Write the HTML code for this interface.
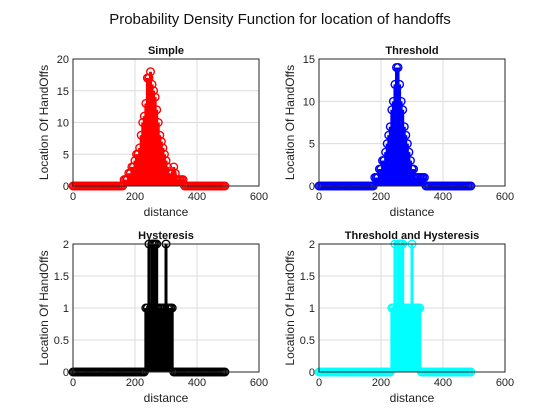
<!DOCTYPE html>
<html><head><meta charset="utf-8"><style>
body{margin:0;background:#fff;}
svg{display:block;font-family:"Liberation Sans",sans-serif;}
</style></head><body>
<svg id="fig" width="560" height="420" viewBox="0 0 560 420">
<rect width="560" height="420" fill="#fff"/>
<text x="280" y="24" text-anchor="middle" font-size="15" fill="#111">Probability Density Function for location of handoffs</text>
</svg>
<script>
const distances = [0,5,10,15,20,25,30,35,40,45,50,55,60,65,70,75,80,85,90,95,100,105,110,115,120,125,130,135,140,145,150,155,160,165,170,175,180,185,190,195,200,205,210,215,220,225,230,235,240,245,250,255,260,265,270,275,280,285,290,295,300,305,310,315,320,325,330,335,340,345,350,355,360,365,370,375,380,385,390,395,400,405,410,415,420,425,430,435,440,445,450,455,460,465,470,475,480,485,490];
const simpleVals = [0,0,0,0,0,0,0,0,0,0,0,0,0,0,0,0,0,0,0,0,0,0,0,0,0,0,0,0,0,0,0,0,0,1,1,1,2,2,3,3,4,5,5,6,8,10,11,13,17,17,18,16,15,14,12,10,8,7,6,5,4,3,2,2,2,3,2,1,1,1,1,1,0,0,0,0,0,0,0,0,0,0,0,0,0,0,0,0,0,0,0,0,0,0,0,0,0,0,0];
const thresholdVals = [0,0,0,0,0,0,0,0,0,0,0,0,0,0,0,0,0,0,0,0,0,0,0,0,0,0,0,0,0,0,0,0,0,0,0,0,1,1,1,2,2,3,3,4,5,6,7,9,10,12,14,14,12,10,9,7,6,5,4,3,2,2,1,1,1,1,1,1,1,0,0,0,0,0,0,0,0,0,0,0,0,0,0,0,0,0,0,0,0,0,0,0,0,0,0,0,0,0,0];
const hystVals = [0,0,0,0,0,0,0,0,0,0,0,0,0,0,0,0,0,0,0,0,0,0,0,0,0,0,0,0,0,0,0,0,0,0,0,0,0,0,0,0,0,0,0,0,0,0,0,1,1,2,1,2,2,2,2,1,1,1,1,1,2,1,1,1,1,0,0,0,0,0,0,0,0,0,0,0,0,0,0,0,0,0,0,0,0,0,0,0,0,0,0,0,0,0,0,0,0,0,0];
const thVals = [0,0,0,0,0,0,0,0,0,0,0,0,0,0,0,0,0,0,0,0,0,0,0,0,0,0,0,0,0,0,0,0,0,0,0,0,0,0,0,0,0,0,0,0,0,0,0,1,1,2,1,2,2,2,2,1,1,1,1,1,2,1,1,1,1,1,0,0,0,0,0,0,0,0,0,0,0,0,0,0,0,0,0,0,0,0,0,0,0,0,0,0,0,0,0,0,0,0,0];
const xTicks = [0,200,400,600];
const yTicksSimple = [0,5,10,15,20];
const yTicksThresh = [0,5,10,15];
const yTicksHyst = [0,0.5,1,1.5,2];
const yLabelsHyst = ["0","0.5","1","1.5","2"];

const NS="http://www.w3.org/2000/svg";
const svg=document.getElementById('fig');
function mk(tag,attrs,parent){const e=document.createElementNS(NS,tag);for(const k in attrs)e.setAttribute(k,attrs[k]);(parent||svg).appendChild(e);return e;}

function plot(name,L,T,R,B,ymax,yTicks,yLabels,vals,color,title,lw){
  const g=mk('g',{});
  
  
  const sx=v=>L+(v/600)*(R-L);
  const sy=v=>B-(v/ymax)*(B-T);
  const bg=mk('rect',{x:L,y:T,width:R-L,height:B-T,fill:'#fff'},g);
  
  
  xTicks.forEach(t=>{
    const gl=mk('line',{x1:sx(t),x2:sx(t),y1:T,y2:B,stroke:'#dcdcdc','stroke-width':1},g);
    
    
    const tl=mk('text',{x:sx(t),y:B+14,'text-anchor':'middle','font-size':11,fill:'#222'},g);
    
    
    tl.textContent=t;
  });
  yTicks.forEach((t,i)=>{
    const gl=mk('line',{x1:L,x2:R,y1:sy(t),y2:sy(t),stroke:'#dcdcdc','stroke-width':1},g);
    
    
    const tl=mk('text',{x:L-4,y:sy(t)+4,'text-anchor':'end','font-size':11,fill:'#222'},g);
    
    
    tl.textContent=yLabels?yLabels[i]:t;
  });
  const sg=mk('g',{},g);
  
  
  distances.forEach((d,i)=>{
    const v=vals[i];
    const ln=mk('line',{x1:sx(d),x2:sx(d),y1:sy(0),y2:sy(v),stroke:color,'stroke-width':lw},sg);
    
    
    const c=mk('circle',{cx:sx(d),cy:sy(v),r:3.8,fill:'none',stroke:color,'stroke-width':1.4},sg);
    
    
  });
  const base=mk('line',{x1:L,x2:R,y1:B,y2:B,stroke:'#000','stroke-width':1},g);
  
  
  const fr=mk('rect',{x:L,y:T,width:R-L,height:B-T,fill:'none',stroke:'#262626','stroke-width':1},g);
  
  
  const tt=mk('text',{x:(L+R)/2,y:T-5,'text-anchor':'middle','font-size':11,'font-weight':'bold',fill:'#111'},g);
  
  
  tt.textContent=title;
  const xl=mk('text',{x:(L+R)/2,y:B+30,'text-anchor':'middle','font-size':12,fill:'#222'},g);
  
  
  xl.textContent='distance';
  const yx=L-25,yy=(T+B)/2;
  const yl=mk('text',{x:yx,y:yy,'text-anchor':'middle','font-size':12,fill:'#222',transform:`rotate(-90 ${yx} ${yy})`},g);
  
  
  yl.textContent='Location Of HandOffs';
}
plot('simple-subplot',73,59,259,186,20,yTicksSimple,null,simpleVals,'#ff0000','Simple',3);
plot('threshold-subplot',319,59,505,186,15,yTicksThresh,null,thresholdVals,'#0000ff','Threshold',3);
plot('hysteresis-subplot',73,244,259,372,2,yTicksHyst,yLabelsHyst,hystVals,'#000000','Hysteresis',3);
plot('threshold-hysteresis-subplot',319,244,505,372,2,yTicksHyst,yLabelsHyst,thVals,'#00ffff','Threshold and Hysteresis',3);
</script>
</body></html>
